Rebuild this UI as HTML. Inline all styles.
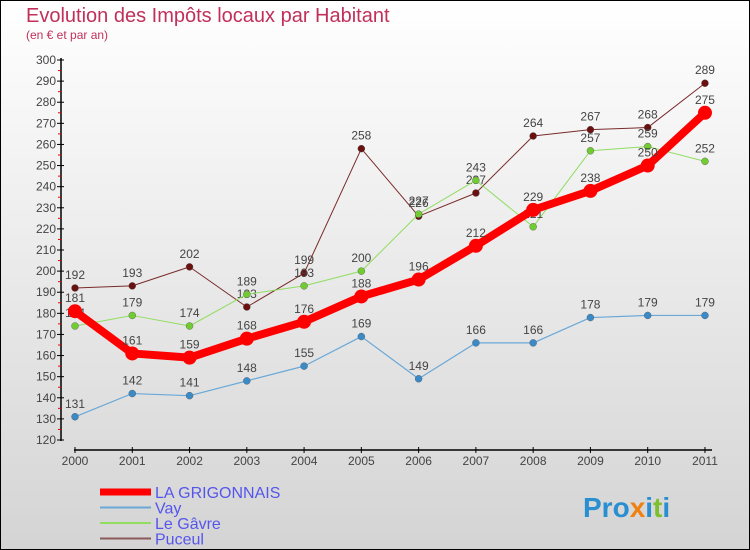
<!DOCTYPE html>
<html><head><meta charset="utf-8"><style>
body{margin:0}
#c{width:750px;height:550px;position:relative;overflow:hidden;font-family:"Liberation Sans",sans-serif}
</style></head><body>
<div id="c">
<svg id="s" width="750" height="550" xmlns="http://www.w3.org/2000/svg">
<defs><linearGradient id="bg" x1="0" y1="0" x2="0" y2="1"><stop offset="0" stop-color="#ffffff"/><stop offset="1" stop-color="#d4d4d4"/></linearGradient></defs>
<rect x="0.5" y="0.5" width="749" height="549" fill="url(#bg)" stroke="#000"/>
<text x="26" y="22" font-size="20" fill="#c0305a">Evolution des Impôts locaux par Habitant</text>
<text x="26" y="39" font-size="12" fill="#c0305a">(en € et par an)</text>
<g id="axes"></g><g id="series"></g><g id="legend"></g>
<text x="583" y="517" font-size="28" font-weight="bold" fill="#2a8fd0">Pro<tspan fill="#f08010">x</tspan><tspan fill="#2a8fd0">i</tspan><tspan fill="#7cc030">t</tspan><tspan fill="#2a8fd0">i</tspan></text>
</svg>
</div>
<script>
const years=["2000","2001","2002","2003","2004","2005","2006","2007","2008","2009","2010","2011"];
const yTicks=[120,130,140,150,160,170,180,190,200,210,220,230,240,250,260,270,280,290,300];
const laGrigonnais=[181,161,159,168,176,188,196,212,229,238,250,275];
const vay=[131,142,141,148,155,169,149,166,166,178,179,179];
const leGavre=[174,179,174,189,193,200,227,243,221,257,259,252];
const puceul=[192,193,202,183,199,258,226,237,264,267,268,289];
const NS="http://www.w3.org/2000/svg";
function X(i){return 75+i*57.27;}
function Y(v){return 440-(v-120)*380/180;}
function mk(t,a,p){const e=document.createElementNS(NS,t);for(const k in a)e.setAttribute(k,a[k]);p.appendChild(e);return e;}
const ax=document.getElementById('axes');
let l=mk('line',{x1:61,y1:58,x2:61,y2:441,stroke:'#000','stroke-width':1.5},ax);

yTicks.forEach((v,i)=>{
 mk('line',{x1:57,y1:Y(v),x2:64,y2:Y(v),stroke:'#000'},ax);
 if(i<yTicks.length-1)mk('line',{x1:58,y1:Y(v+5),x2:61,y2:Y(v+5),stroke:'#e00'},ax);
 const t=mk('text',{x:56,y:Y(v)+4,'font-size':12,fill:'#444','text-anchor':'end'},ax);t.textContent=v;
 
});
l=mk('line',{x1:74,y1:450,x2:712,y2:450,stroke:'#000','stroke-width':1.5},ax);

years.forEach((y,i)=>{
 mk('line',{x1:X(i),y1:447,x2:X(i),y2:453,stroke:'#000'},ax);
 const t=mk('text',{x:X(i),y:465,'font-size':12,fill:'#444','text-anchor':'middle'},ax);t.textContent=y;
 
});
const sg=document.getElementById('series');
const S=[
 {n:'puceul',d:puceul,c:'#7a2a2a',f:'#6a1010',w:1,r:3.5},
 {n:'le-gavre',d:leGavre,c:'#90dd60',f:'#70cc30',w:1,r:3.5},
 {n:'vay',d:vay,c:'#6aa8d8',f:'#3a8ac8',w:1.2,r:3.5},
 {n:'la-grigonnais',d:laGrigonnais,c:'#ff0000',f:'#ff0000',w:8,r:7}
];
S.forEach(s=>{
 const g=mk('g',{},sg);
 
 const p=mk('polyline',{points:s.d.map((v,i)=>X(i)+','+Y(v)).join(' '),fill:'none',stroke:s.c,'stroke-width':s.w,'stroke-linejoin':'round'},g);
 
 s.d.forEach((v,i)=>{
  const c=mk('circle',{cx:X(i),cy:Y(v),r:s.r,fill:s.f,stroke:s.w>2?'none':'#555','stroke-width':0.4},g);
  
  const t=mk('text',{x:X(i),y:Y(v)-9,'font-size':12,fill:'#444','text-anchor':'middle'},g);t.textContent=v;
  
 });
});
const lg=document.getElementById('legend');
const L=[['LA GRIGONNAIS','#ff0000',7,'la-grigonnais'],['Vay','#6aa8d8',2,'vay'],['Le Gâvre','#90dd60',2,'le-gavre'],['Puceul','#8a5a5a',2,'puceul']];
L.forEach((e,i)=>{
 const y=492+i*15.5;
 const g=mk('g',{},lg);
 
 mk('line',{x1:100,y1:y,x2:151,y2:y,stroke:e[1],'stroke-width':e[2]},g);
 const t=mk('text',{x:155,y:y+6,'font-size':16,fill:'#5555ee'},g);t.textContent=e[0];
});
</script>
</body></html>
